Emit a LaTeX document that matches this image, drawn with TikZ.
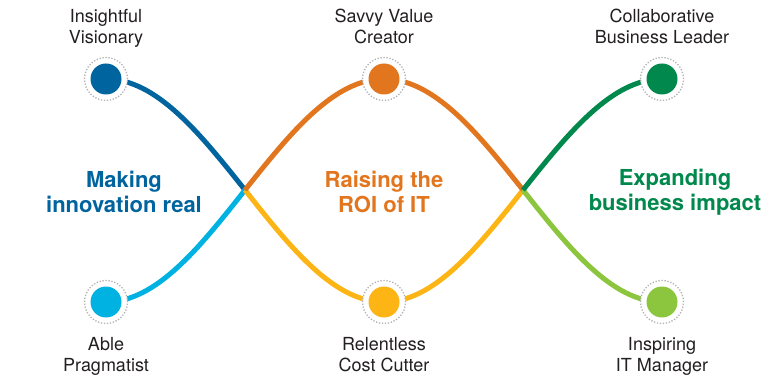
\documentclass[tikz,border=0pt]{standalone}
\usepackage{fontspec}
\setmainfont{TeX Gyre Heros}
\usetikzlibrary{positioning}
\definecolor{visblue}{HTML}{00649F}
\definecolor{pragcyan}{HTML}{00B2E2}
\definecolor{roiorange}{HTML}{E2761F}
\definecolor{costyellow}{HTML}{FDB515}
\definecolor{bizgreen}{HTML}{00884D}
\definecolor{itgreen}{HTML}{8CC63E}
\definecolor{labelgray}{HTML}{231F20}
\tikzset{role node/.style={circle,fill=white,draw=gray!60,line width=1.3pt,dash pattern=on 1.3pt off 1.7pt,minimum size=43pt,inner sep=0pt,
           path picture={\fill[#1] (path picture bounding box.center) circle (15.5pt);}},
         role label/.style={align=center,text=labelgray,font=\fontsize{18}{21}\selectfont,
           execute at begin node=\strut,execute at end node=\strut},
         theme label/.style={align=center,font=\bfseries\fontsize{22}{25}\selectfont},
         wave/.style={line width=5pt},
}

\begin{document}
\begin{tikzpicture}[x=1pt,y=-1pt]
\useasboundingbox (0,0) rectangle (776,379);
% crossing points
\coordinate (x1) at (245,190);
\coordinate (x2) at (523,190);
\coordinate (vis) at (106,79);
\coordinate (prag) at (106,302);
\coordinate (savvy) at (384,79);
\coordinate (cost) at (384,302);
\coordinate (collab) at (662,79);
\coordinate (insp) at (662,302);
% waves
\draw[wave,visblue] (vis) cos (x1);
\draw[wave,pragcyan] (prag) cos (x1);
\draw[wave,costyellow] (x1) sin (cost) cos (x2);
\draw[wave,roiorange] (x1) sin (savvy) cos (x2);
\draw[wave,itgreen] (x2) sin (insp);
\draw[wave,bizgreen] (x2) sin (collab);
% roles
\node[role node=visblue] (n-vis) at (vis) {};
\node[role node=pragcyan] (n-prag) at (prag) {};
\node[role node=roiorange] (n-savvy) at (savvy) {};
\node[role node=costyellow] (n-cost) at (cost) {};
\node[role node=bizgreen] (n-collab) at (collab) {};
\node[role node=itgreen] (n-insp) at (insp) {};
\node[role label,above=4pt of n-vis] (l-vis) {Insightful\\Visionary};
\node[role label,above=4pt of n-savvy] (l-savvy) {Savvy Value\\Creator};
\node[role label,above=4pt of n-collab] (l-collab) {Collaborative\\Business Leader};
\node[role label,below=10pt of n-prag] (l-prag) {Able\\Pragmatist};
\node[role label,below=10pt of n-cost] (l-cost) {Relentless\\Cost Cutter};
\node[role label,below=10pt of n-insp] (l-insp) {Inspiring\\IT Manager};
% themes
\node[theme label,text=visblue] (t-real) at (124,192) {Making\\innovation real};
\node[theme label,text=roiorange] (t-roi) at (384,192) {Raising the\\ROI of IT};
\node[theme label,text=bizgreen] (t-biz) at (675,192) {Expanding\\business impact};
\end{tikzpicture}
\end{document}
